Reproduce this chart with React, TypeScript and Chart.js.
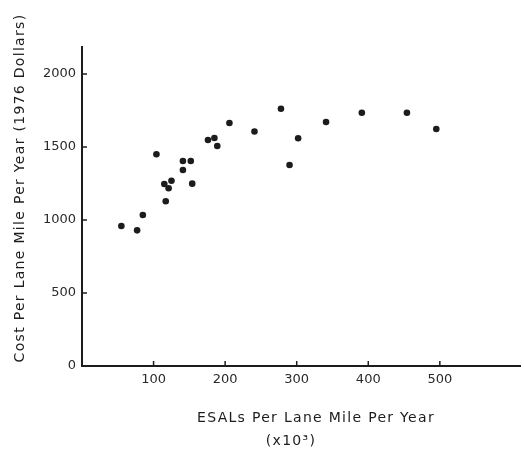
import React, { useEffect, useRef } from "react";
import { Chart, registerables } from "chart.js";

Chart.register(...registerables);

// ESALs per lane mile per year (x10^3)
const esals = [55, 77, 85, 104, 117, 115, 125, 121, 141, 141, 152, 154, 176, 185, 189, 206, 241, 278, 302, 290, 341, 391, 454, 495];
// Cost per lane mile per year (1976 dollars)
const costs = [959, 929, 1034, 1450, 1128, 1247, 1269, 1217, 1342, 1404, 1404, 1249, 1548, 1562, 1507, 1664, 1606, 1762, 1560, 1377, 1671, 1735, 1735, 1623];

const xTickValues = [100, 200, 300, 400, 500];
const yTickValues = [0, 500, 1000, 1500, 2000];
const xMin = 0;
const xMax = 612;
const yMin = 0;
const yMax = 2185;

const yTitle = "Cost Per Lane Mile Per Year (1976 Dollars)";
const xTitleLine1 = "ESALs Per Lane Mile Per Year";
const xTitleLine2 = "(x10\u00B3)";

const FONT = "'DejaVu Sans', sans-serif";
const INK = "#1c1c1c";

const decorPlugin = {
  id: "decor",
  afterDraw(chart: any) {
    const ctx = chart.ctx;
    const xs = chart.scales.x;
    const ys = chart.scales.y;
    const area = chart.chartArea;
    ctx.save();
    ctx.strokeStyle = INK;
    ctx.lineWidth = 1.5;
    // inward tick marks
    xTickValues.forEach((v) => {
      const px = xs.getPixelForValue(v);
      ctx.beginPath();
      ctx.moveTo(px, area.bottom);
      ctx.lineTo(px, area.bottom - 5);
      ctx.stroke();
    });
    yTickValues.forEach((v) => {
      if (v === 0) return;
      const py = ys.getPixelForValue(v);
      ctx.beginPath();
      ctx.moveTo(area.left, py);
      ctx.lineTo(area.left + 5, py);
      ctx.stroke();
    });
    // axis titles
    ctx.fillStyle = INK;
    ctx.font = `14px ${FONT}`;
    (ctx as any).letterSpacing = "1.3px";
    ctx.textAlign = "center";
    ctx.textBaseline = "middle";
    ctx.save();
    ctx.translate(20, 188);
    ctx.rotate(-Math.PI / 2);
    ctx.fillText(yTitle, 0, 0);
    ctx.restore();
    ctx.fillText(xTitleLine1, 316, 418);
    ctx.fillText(xTitleLine2, 291, 441);
    (ctx as any).letterSpacing = "0px";
    ctx.restore();
  },
};

export default function App() {
  const canvasRef = useRef<HTMLCanvasElement | null>(null);

  useEffect(() => {
    if (!canvasRef.current) return;
    const points = esals.map((x, i) => ({ x, y: costs[i] }));
    const chart = new Chart(canvasRef.current, {
      type: "scatter",
      data: {
        datasets: [
          {
            data: points,
            backgroundColor: INK,
            borderWidth: 0,
            pointRadius: 3.3,
          },
        ],
      },
      options: {
        responsive: false,
        animation: false,
        devicePixelRatio: 1,
        layout: { padding: { left: 0, top: 47, right: 1, bottom: 0 } },
        plugins: {
          legend: { display: false },
          tooltip: { enabled: false },
        },
        font: { family: FONT },
        scales: {
          x: {
            type: "linear",
            min: xMin,
            max: xMax,
            afterBuildTicks: (scale: any) => {
              scale.ticks = xTickValues.map((v) => ({ value: v }));
            },
            afterFit: (scale: any) => {
              scale.height = 84;
            },
            grid: { display: false, drawTicks: false },
            border: { display: true, color: INK, width: 2 },
            ticks: {
              padding: 6,
              color: "#2a2a2a",
              font: { family: FONT, size: 13 },
              maxRotation: 0,
              autoSkip: false,
              callback: (v: any) => String(v),
            },
          },
          y: {
            type: "linear",
            min: yMin,
            max: yMax,
            afterBuildTicks: (scale: any) => {
              scale.ticks = yTickValues.map((v) => ({ value: v }));
            },
            afterFit: (scale: any) => {
              scale.width = 82;
            },
            grid: { display: false, drawTicks: false },
            border: { display: true, color: INK, width: 2 },
            ticks: {
              padding: 6,
              color: "#2a2a2a",
              font: { family: FONT, size: 13 },
              autoSkip: false,
              callback: (v: any) => String(v),
            },
          },
        },
      },
      plugins: [decorPlugin],
    } as any);
    return () => chart.destroy();
  }, []);

  return (
    <div style={{ position: "absolute", left: 0, top: 0, width: 524, height: 450, background: "#fff" }}>
      <canvas ref={canvasRef} width={524} height={450} style={{ width: 524, height: 450 }} />
    </div>
  );
}
